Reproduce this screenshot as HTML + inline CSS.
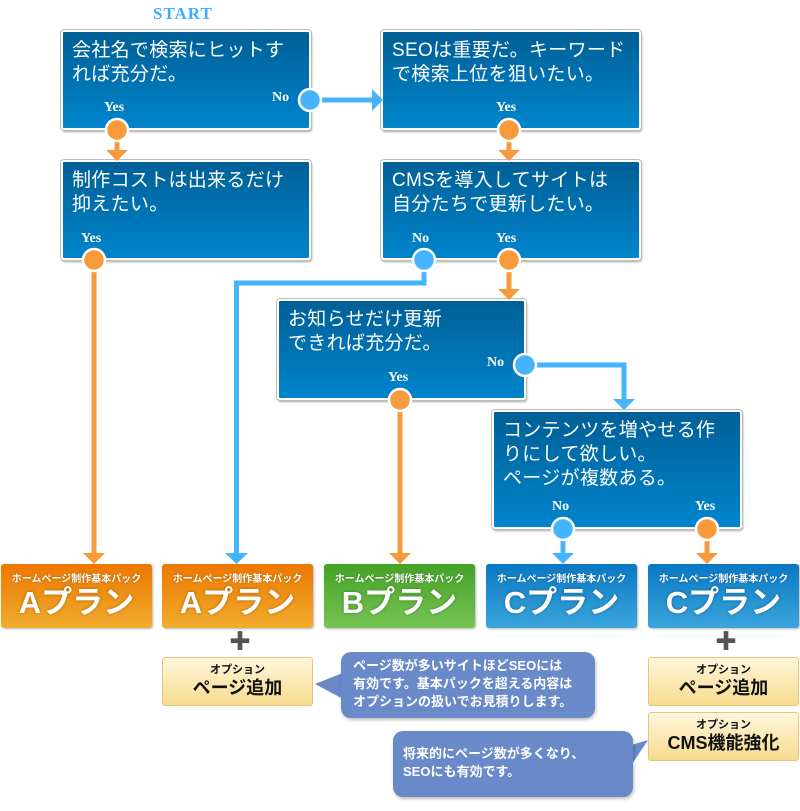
<!DOCTYPE html>
<html><head><meta charset="utf-8"><style>
*{margin:0;padding:0;box-sizing:border-box}
body{width:800px;height:811px;background:#fff;position:relative;overflow:hidden;font-family:"Liberation Sans","Noto Sans CJK JP",sans-serif}
.q{position:absolute;background:linear-gradient(#005f96,#0085cc);border:2px solid #fff;box-shadow:0 0 0 1px #bbb,1px 2px 2px rgba(0,0,0,.35);border-radius:3px;color:#fff;font-size:19px;line-height:24px;padding:7px 9px;letter-spacing:0.3px}
.lb{position:absolute;color:#fff;font-family:"Liberation Serif",serif;font-weight:bold;font-size:14px}
.p{position:absolute;width:151px;height:64px;border-radius:3px;color:#fff;text-align:center;box-shadow:1px 1px 2px rgba(0,0,0,.3)}
.p .s{font-size:10px;font-weight:bold;margin-top:10px;line-height:12px;text-shadow:0 0 2px rgba(0,0,0,.3)}
.p .b{font-size:31px;font-weight:bold;line-height:34px;text-shadow:0 0 3px rgba(0,0,0,.3)}
.or{background:linear-gradient(#ed7700,#f0ad2e)}
.gr{background:linear-gradient(#44a226,#77c455)}
.bl{background:linear-gradient(#0a77c4,#3aa6dc)}
.o{position:absolute;width:151px;height:49px;border-radius:3px;background:linear-gradient(#fef6dc,#f7dc8e);border:1px solid #e2c77a;text-align:center;color:#111;font-weight:bold}
.o .s{font-size:11px;margin-top:6px;line-height:13px}
.o .b{font-size:18px;line-height:22px}
.bb{position:absolute;background:#6a89c9;border-radius:10px;color:#fff;font-size:13px;font-weight:bold;line-height:18px;box-shadow:1px 2px 3px rgba(0,0,0,.25)}
.plus{position:absolute;font-size:22px;font-weight:bold;color:#555;line-height:20px}
</style></head><body>
<div style="position:absolute;left:153px;top:4px;color:#3aaeff;font-family:'Liberation Serif',serif;font-weight:bold;font-size:17px;letter-spacing:1px">START</div>

<div class="q" style="left:61px;top:30px;width:250px;height:100px">会社名で検索にヒットすれば充分だ。</div>
<div class="q" style="left:381px;top:30px;width:260px;height:100px">SEOは重要だ。キーワードで検索上位を狙いたい。</div>
<div class="q" style="left:61px;top:160px;width:250px;height:100px">制作コストは出来るだけ<br>抑えたい。</div>
<div class="q" style="left:381px;top:160px;width:260px;height:100px">CMSを導入してサイトは<br>自分たちで更新したい。</div>
<div class="q" style="left:277px;top:299px;width:249px;height:101px">お知らせだけ更新<br>できれば充分だ。</div>
<div class="q" style="left:492px;top:410px;width:250px;height:119px">コンテンツを増やせる作りにして欲しい。<br>ページが複数ある。</div>

<div class="lb" style="left:104px;top:100px">Yes</div>
<div class="lb" style="left:272px;top:90px">No</div>
<div class="lb" style="left:496px;top:100px">Yes</div>
<div class="lb" style="left:81px;top:231px">Yes</div>
<div class="lb" style="left:412px;top:231px">No</div>
<div class="lb" style="left:496px;top:231px">Yes</div>
<div class="lb" style="left:487px;top:355px">No</div>
<div class="lb" style="left:388px;top:370px">Yes</div>
<div class="lb" style="left:552px;top:499px">No</div>
<div class="lb" style="left:695px;top:499px">Yes</div>

<svg style="position:absolute;left:0;top:0" width="800" height="811">
<g fill="none" stroke-width="5">
<path d="M117 130V152" stroke="#f79a3c"/>
<path d="M310 100H374" stroke="#45b4fc"/>
<path d="M509 130V152" stroke="#f79a3c"/>
<path d="M94 260V556" stroke="#f79a3c"/>
<path d="M424 260V283H236.5V556" stroke="#45b4fc"/>
<path d="M509 260V291" stroke="#f79a3c"/>
<path d="M525 365H624V402" stroke="#45b4fc"/>
<path d="M400 400V556" stroke="#f79a3c"/>
<path d="M563 529V556" stroke="#45b4fc"/>
<path d="M707 529V556" stroke="#f79a3c"/>
</g>
<g fill="#f79a3c">
<path d="M106 150H128L117 161Z"/><path d="M498 150H520L509 161Z"/><path d="M83 553H105L94 564Z"/><path d="M498 289H520L509 300Z"/><path d="M389 553H411L400 564Z"/><path d="M696 553H718L707 564Z"/>
</g>
<g fill="#45b4fc">
<path d="M372 89V111L383 100Z"/><path d="M225 553H248L236.5 564Z"/><path d="M613 399H635L624 410Z"/><path d="M552 553H574L563 564Z"/>
</g>
<g stroke="#fff" stroke-width="2.5">
<circle cx="117" cy="130" r="11" fill="#f79a3c"/>
<circle cx="310" cy="100" r="11" fill="#45b4fc"/>
<circle cx="509" cy="130" r="11" fill="#f79a3c"/>
<circle cx="94" cy="260" r="11" fill="#f79a3c"/>
<circle cx="424" cy="260" r="11" fill="#45b4fc"/>
<circle cx="509" cy="260" r="11" fill="#f79a3c"/>
<circle cx="525" cy="365" r="11" fill="#45b4fc"/>
<circle cx="400" cy="400" r="11" fill="#f79a3c"/>
<circle cx="563" cy="529" r="11" fill="#45b4fc"/>
<circle cx="707" cy="529" r="11" fill="#f79a3c"/>
</g>
<path d="M345 672L315 684L345 700Z" fill="#6a89c9"/>
<path d="M628 746L648 740L628 770Z" fill="#6a89c9"/>
</svg>

<div class="p or" style="left:1px;top:564px"><div class="s">ホームページ制作基本パック</div><div class="b">Aプラン</div></div>
<div class="p or" style="left:162px;top:564px"><div class="s">ホームページ制作基本パック</div><div class="b">Aプラン</div></div>
<div class="p gr" style="left:324px;top:564px"><div class="s">ホームページ制作基本パック</div><div class="b">Bプラン</div></div>
<div class="p bl" style="left:486px;top:564px"><div class="s">ホームページ制作基本パック</div><div class="b">Cプラン</div></div>
<div class="p bl" style="left:648px;top:564px"><div class="s">ホームページ制作基本パック</div><div class="b">Cプラン</div></div>

<div class="plus" style="left:229px;top:632px">✚</div>
<div class="plus" style="left:715px;top:632px">✚</div>

<div class="o" style="left:162px;top:657px"><div class="s">オプション</div><div class="b">ページ追加</div></div>
<div class="o" style="left:648px;top:657px"><div class="s">オプション</div><div class="b">ページ追加</div></div>
<div class="o" style="left:648px;top:712px"><div class="s">オプション</div><div class="b">CMS機能強化</div></div>

<div class="bb" style="left:341px;top:652px;width:254px;height:66px;padding:5px 12px">ページ数が多いサイトほどSEOには<br>有効です。基本パックを超える内容は<br>オプションの扱いでお見積りします。</div>
<div class="bb" style="left:393px;top:731px;width:240px;height:66px;padding:14px 10px">将来的にページ数が多くなり、<br>SEOにも有効です。</div>
</body></html>
